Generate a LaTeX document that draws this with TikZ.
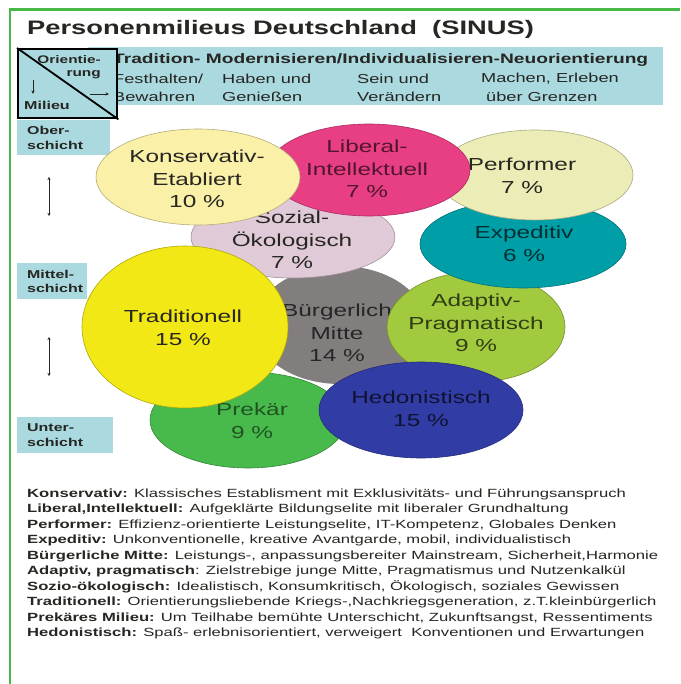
\documentclass[tikz,border=0pt]{standalone}
\usepackage{fontspec}
\setmainfont{Liberation Sans}[FakeStretch=1.4]
\usetikzlibrary{shapes.geometric,arrows.meta}

\definecolor{frameGreen}{RGB}{70,185,70}
\definecolor{bandBlue}{RGB}{170,217,223}
\definecolor{txtDark}{RGB}{38,38,34}
\definecolor{cKons}{RGB}{250,240,168}
\definecolor{cLib}{RGB}{232,62,132}
\definecolor{cPerf}{RGB}{236,236,182}
\definecolor{cExp}{RGB}{0,158,166}
\definecolor{cSoz}{RGB}{224,202,216}
\definecolor{cTrad}{RGB}{242,232,22}
\definecolor{cBuerg}{RGB}{130,126,126}
\definecolor{cAdap}{RGB}{162,202,62}
\definecolor{cHedo}{RGB}{50,60,165}
\definecolor{cPrek}{RGB}{72,186,76}

\tikzset{
  bubble/.style={ellipse, fill=#1, draw=#1!72!black, line width=0.6pt, inner sep=0pt},
  bubbletext/.style={align=center, inner sep=0pt, text=txtDark,
    font=\fontsize{17.4}{22.5}\selectfont},
  headtext/.style={anchor=west, inner sep=0pt, text=txtDark,
    font=\fontsize{13}{15}\selectfont},
  notetext/.style={anchor=west, inner sep=0pt, text=txtDark,
    font=\fontsize{11.88}{14}\selectfont},
  layerbox/.style={fill=bandBlue, anchor=north west, inner xsep=10pt, inner ysep=0pt,
    align=left, text=txtDark, font=\bfseries\fontsize{11.4}{14.5}\selectfont},
  smallarrow/.style={-{Stealth[length=3.5pt,width=3pt]}, line width=0.6pt, draw=txtDark},
  bothway/.style={{Stealth[length=3pt,width=3pt]}-{Stealth[length=3pt,width=3pt]},
    line width=0.7pt, draw=txtDark}
}

\begin{document}
\begin{tikzpicture}[x=1pt,y=-1pt]
\useasboundingbox (0,0) rectangle (680,684);
\fill[white] (0,0) rectangle (680,684);

% green frame along top and left
\draw[frameGreen, line width=2.2pt] (10,684) -- (10,9.5) -- (680,9.5);

% title
\node[anchor=base west, inner sep=0pt, text=txtDark,
  font=\bfseries\fontsize{19.5}{22}\selectfont] (title) at (27,35)
  {Personenmilieus Deutschland\ \ (SINUS)};

% header band with orientation scale
\node[fill=bandBlue, anchor=north west, inner sep=0pt,
  minimum width=575pt, minimum height=58pt] (band) at (88,47) {};
\node[headtext, font=\bfseries\fontsize{13.7}{15}\selectfont] (h0) at (113,60)
  {Tradition- Modernisieren/Individualisieren-Neuorientierung};
\node[headtext] (h1a) at (113,79) {Festhalten/};
\node[headtext] (h1b) at (222,79) {Haben und};
\node[headtext] (h1c) at (357,79) {Sein und};
\node[headtext] (h1d) at (481,79) {Machen, Erleben};
\node[headtext] (h2a) at (113,97) {Bewahren};
\node[headtext] (h2b) at (222,97) {Genießen};
\node[headtext] (h2c) at (357,97) {Verändern};
\node[headtext] (h2d) at (486,97) {über Grenzen};

% corner key: orientation vs. milieu
\node[fill=bandBlue, draw=black, line width=2.4pt, anchor=north west, inner sep=0pt,
  minimum width=99pt, minimum height=69pt] (key) at (17,48) {};
\draw[black, line width=1.8pt] (key.north west) -- (key.south east);
\node[anchor=east, inner sep=0pt, text=txtDark,
  font=\bfseries\fontsize{11}{13}\selectfont] (keyA) at (101,60) {Orientie-};
\node[anchor=east, inner sep=0pt, text=txtDark,
  font=\bfseries\fontsize{11}{13}\selectfont] (keyB) at (101,75) {rung};
\node[anchor=west, inner sep=0pt, text=txtDark,
  font=\bfseries\fontsize{11.5}{13}\selectfont] (keyC) at (24,105) {Milieu};
\coordinate (dnA) at (33,80);
\coordinate (dnB) at (33,94);
\coordinate (rtA) at (90,94);
\coordinate (rtB) at (109,94);
\draw[smallarrow] (dnA) -- (dnB);
\draw[smallarrow] (rtA) -- (rtB);

% social layers on the left
\node[layerbox, minimum width=93pt, minimum height=35pt, text width=73pt] (ober) at (17,120)
  {Ober-\\schicht};
\node[layerbox, minimum width=66pt, minimum height=36pt, text width=50pt] (mittel) at (17,263)
  {Mittel-\\schicht};
\node[layerbox, minimum width=96pt, minimum height=36pt, text width=76pt] (unter) at (17,417)
  {Unter-\\schicht};
\coordinate (upA) at (49,177);
\coordinate (upB) at (49,216);
\coordinate (loA) at (49,337);
\coordinate (loB) at (49,376);
\draw[bothway] (upA) -- (upB);
\draw[bothway] (loA) -- (loB);

% milieu bubbles, back to front
\node[bubble=cBuerg, draw=none, minimum width=172pt, minimum height=118pt] (buerg) at (340,325) {};
\node[bubbletext, text=black!85] (buergT) at (337,333) {Bürgerlich\\Mitte\\14 \%};

\node[bubble=cPrek, minimum width=196pt, minimum height=96pt] (prek) at (248,420) {};
\node[bubbletext, text=cPrek!45!black] (prekT) at (252,421) {Prekär\\9 \%};

\node[bubble=cSoz, minimum width=204pt, minimum height=82pt] (soz) at (293,237) {};
\node[bubbletext] (sozT) at (292,240) {Sozial-\\Ökologisch\\7 \%};

\node[bubble=cAdap, minimum width=178pt, minimum height=110pt] (adap) at (476,327) {};
\node[bubbletext, text=cAdap!30!black] (adapT) at (476,323) {Adaptiv-\\Pragmatisch\\9 \%};

\node[bubble=cExp, minimum width=206pt, minimum height=88pt] (exp) at (523,244) {};
\node[bubbletext, text=cExp!30!black] (expT) at (524,244) {Expeditiv\\6 \%};

\node[bubble=cPerf, minimum width=196pt, minimum height=90pt] (perf) at (535,175) {};
\node[bubbletext] (perfT) at (522,176) {Performer\\7 \%};

\node[bubble=cLib, minimum width=202pt, minimum height=92pt] (lib) at (369,170) {};
\node[bubbletext, text=cLib!35!black] (libT) at (367,169) {Liberal-\\Intellektuell\\7 \%};

\node[bubble=cKons, minimum width=204pt, minimum height=96pt] (kons) at (198,177) {};
\node[bubbletext] (konsT) at (197,179) {Konservativ-\\Etabliert\\10 \%};

\node[bubble=cHedo, minimum width=204pt, minimum height=96pt] (hedo) at (421,410) {};
\node[bubbletext, text=cHedo!30!black] (hedoT) at (421,409) {Hedonistisch\\15 \%};

\node[bubble=cTrad, minimum width=206pt, minimum height=162pt] (trad) at (185,327) {};
\node[bubbletext] (tradT) at (183,328) {Traditionell\\15 \%};

% legend
\node[notetext] (n1) at (27,494) {\textbf{Konservativ:} Klassisches Establisment mit Exklusivitäts- und Führungsanspruch};
\node[notetext] (n2) at (27,509.5) {\textbf{Liberal,Intellektuell:} Aufgeklärte Bildungselite mit liberaler Grundhaltung};
\node[notetext] (n3) at (27,525) {\textbf{Performer:} Effizienz-orientierte Leistungselite, IT-Kompetenz, Globales Denken};
\node[notetext] (n4) at (27,540.5) {\textbf{Expeditiv:} Unkonventionelle, kreative Avantgarde, mobil, individualistisch};
\node[notetext] (n5) at (27,556) {\textbf{Bürgerliche Mitte:} Leistungs-, anpassungsbereiter Mainstream, Sicherheit,Harmonie};
\node[notetext] (n6) at (27,571.5) {\textbf{Adaptiv, pragmatisch}: Zielstrebige junge Mitte, Pragmatismus und Nutzenkalkül};
\node[notetext] (n7) at (27,587) {\textbf{Sozio-ökologisch:} Idealistisch, Konsumkritisch, Ökologisch, soziales Gewissen};
\node[notetext] (n8) at (27,602.5) {\textbf{Traditionell:} Orientierungsliebende Kriegs-,Nachkriegsgeneration, z.T.kleinbürgerlich};
\node[notetext] (n9) at (27,618) {\textbf{Prekäres Milieu:} Um Teilhabe bemühte Unterschicht, Zukunftsangst, Ressentiments};
\node[notetext] (n10) at (27,633.5) {\textbf{Hedonistisch:} Spaß- erlebnisorientiert, verweigert\ \ Konventionen und Erwartungen};
\end{tikzpicture}
\end{document}
